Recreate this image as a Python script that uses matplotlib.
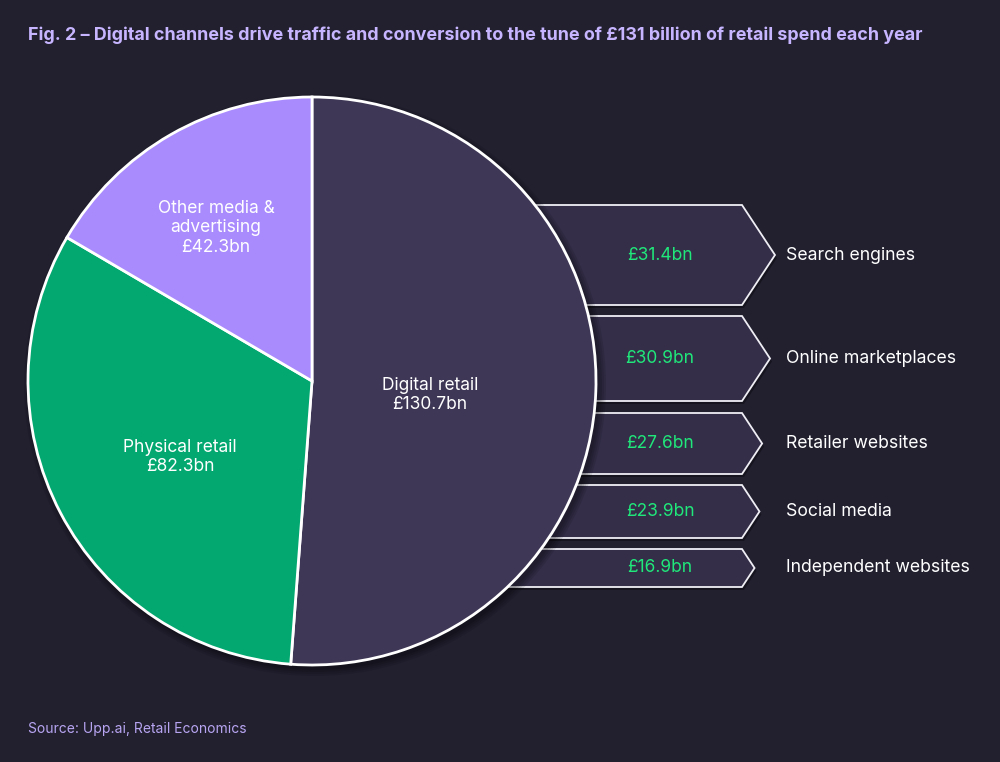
import matplotlib.pyplot as plt
from matplotlib.patches import Polygon, Circle

# data
slice_names = ['Digital retail', 'Physical retail', 'Other media &\nadvertising']
slice_values = [130.7, 82.3, 42.3]
channel_names = ['Search engines', 'Online marketplaces', 'Retailer websites',
                 'Social media', 'Independent websites']
channel_values = [31.4, 30.9, 27.6, 23.9, 16.9]

# layout (pixels from top of the 1000x762 canvas)
band_top = [205, 316, 413, 485, 549]
band_bottom = [305, 401, 474, 538, 587]

bg = '#22202f'
slice_colors = ['#3f3756', '#02a870', '#a98bfd']
arrow_color = '#342e49'
green_txt = '#20e87a'
lav = '#c7b5ff'

plt.rcParams['font.family'] = ['Inter', 'DejaVu Sans']

fig = plt.figure(figsize=(10, 7.62), dpi=100, facecolor=bg)
ax = fig.add_axes([0, 0, 1, 1])
ax.set_facecolor(bg)

H = 762
cx, cy, r = 312, H - 381, 284

# channel arrows, drawn behind the pie
x0, x_end = 480, 742
for name, val, t, b in zip(channel_names, channel_values, band_top, band_bottom):
    yt, yb = H - t, H - b
    ym = (yt + yb) / 2
    tip = x_end + (b - t) * 0.33
    pts = [(x0, yt), (x_end, yt), (tip, ym), (x_end, yb), (x0, yb)]
    sh = [(px + 2, py - 3) for px, py in pts]
    ax.add_patch(Polygon(sh, closed=True, facecolor='black', alpha=0.35,
                         edgecolor='none', zorder=1))
    ax.add_patch(Polygon(pts, closed=True, facecolor=arrow_color,
                         edgecolor='#f0eef5', linewidth=1.3, zorder=2))
    ax.text(660, ym, f'£{val}bn', color=green_txt, fontsize=12.5,
            ha='center', va='center', zorder=3)
    ax.text(786, ym, name, color='white', fontsize=12.7,
            ha='left', va='center', zorder=3)

# soft shadow under pie
for i in range(4):
    ax.add_patch(Circle((cx + 3, cy - 4), r + 1 + i * 2, facecolor='black',
                        alpha=0.10, edgecolor='none', zorder=4))

wedges, _ = ax.pie(slice_values, colors=slice_colors, startangle=90,
                   counterclock=False, center=(cx, cy), radius=r,
                   wedgeprops=dict(edgecolor='white', linewidth=2))
for w in wedges:
    w.set_zorder(5)
ax.set_xlim(0, 1000)
ax.set_ylim(0, 762)
ax.set_aspect('equal')
ax.axis('off')

label_pos = [(430, 395), (180, 457), (216, 228)]
for name, val, (lx, ly) in zip(slice_names, slice_values, label_pos):
    ax.text(lx, H - ly, f'{name}\n£{val}bn', color='white', fontsize=12.5,
            ha='center', va='center', linespacing=1.2, zorder=6)

fig.text(0.028, 1 - 35 / H, 'Fig. 2 – Digital channels drive traffic and conversion '
         'to the tune of £131 billion of retail spend each year',
         color=lav, fontsize=12.9, fontweight='bold', ha='left', va='center')
fig.text(0.028, 1 - 729 / H, 'Source: Upp.ai, Retail Economics',
         color='#b8a5f2', fontsize=10, ha='left', va='center')

fig.savefig('out.png', dpi=100, facecolor=bg)
